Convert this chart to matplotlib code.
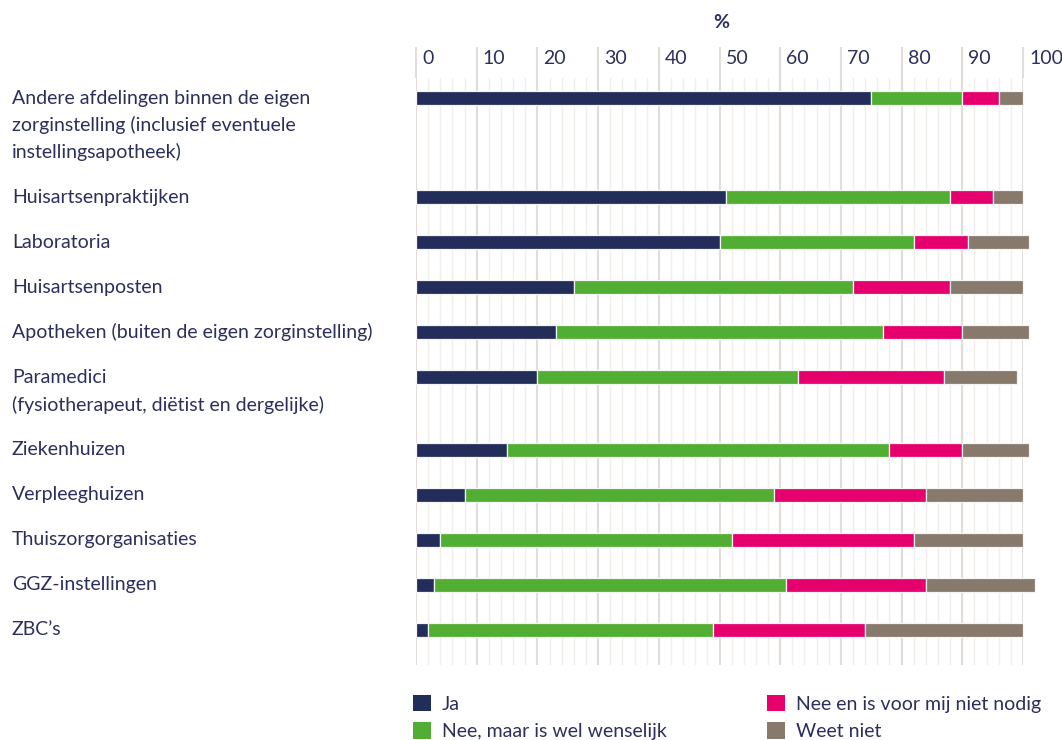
import matplotlib
matplotlib.use("Agg")
import matplotlib.pyplot as plt
import matplotlib.transforms as mtransforms
from matplotlib.patches import Patch
import numpy as np

plt.rcParams['font.family'] = ['Lato', 'DejaVu Sans']

categories = [
    "Andere afdelingen binnen de eigen\nzorginstelling (inclusief eventuele\ninstellingsapotheek)",
    "Huisartsenpraktijken",
    "Laboratoria",
    "Huisartsenposten",
    "Apotheken (buiten de eigen zorginstelling)",
    "Paramedici\n(fysiotherapeut, diëtist en dergelijke)",
    "Ziekenhuizen",
    "Verpleeghuizen",
    "Thuiszorgorganisaties",
    "GGZ-instellingen",
    "ZBC’s",
]
ja = [75, 51, 50, 26, 23, 20, 15, 8, 4, 3, 2]
nee_wenselijk = [15, 37, 32, 46, 54, 43, 63, 51, 48, 58, 47]
nee_niet_nodig = [6, 7, 9, 16, 13, 24, 12, 25, 30, 23, 25]
weet_niet = [4, 5, 10, 12, 11, 12, 11, 16, 18, 18, 26]
series_names = ["Ja", "Nee, maar is wel wenselijk", "Nee en is voor mij niet nodig", "Weet niet"]
colors = ["#232d5a", "#52ae32", "#e5006d", "#87796b"]
xticks = [0, 10, 20, 30, 40, 50, 60, 70, 80, 90, 100]
text_color = "#2b2f5c"
major_grid = "#e2ddd8"
minor_grid = "#f1efec"
fs = 14

fig = plt.figure(figsize=(10.62, 7.40), dpi=100)
ax = fig.add_axes([416/1062, 1-665/740, (1023-416)/1062, (665-78)/740])

# y positions: rows with multi-line labels take more space
line_step = 0.6
ypos = []
y = 0.0
for lab in categories:
    ypos.append(y)
    y += 1 + line_step * (lab.count("\n"))
ypos = np.array(ypos)

data = [ja, nee_wenselijk, nee_niet_nodig, weet_niet]
left = np.zeros(len(categories))
for vals, col in zip(data, colors):
    vals = np.array(vals, dtype=float)
    bars = ax.barh(ypos, vals, left=left, height=0.31, color=col,
                   edgecolor="#f4f4f4", linewidth=0.9, zorder=3)
    for b in bars:
        b.set_clip_on(False)
    left += vals

ax.set_xlim(0, 100)
ax.set_ylim(ypos[-1] + 0.78, -0.444)

# grid
for v in np.arange(0, 101, 2):
    if v % 10 == 0:
        ax.axvline(v, color=major_grid, lw=1.5, zorder=1)
    else:
        ax.axvline(v, color=minor_grid, lw=1.0, zorder=1)

ax.set_yticks([])
ax.set_xticks(xticks)
ax.tick_params(axis='x', which='major', top=True, bottom=False, labeltop=False,
               labelbottom=False, length=22, width=1.5, color=major_grid, direction='out')
for s in ax.spines.values():
    s.set_visible(False)

# tick labels to the right of the tick lines
trans = mtransforms.blended_transform_factory(ax.transData, ax.transAxes)
off = mtransforms.ScaledTranslation(6/100, 0, fig.dpi_scale_trans)
for v in xticks:
    ax.text(v, 1 + 19/587, str(v), transform=trans + off, ha='left', va='center',
            fontsize=fs, color=text_color)

fig.text(721/1062, 1-22/740, "%", ha='center', va='center', fontsize=fs,
         fontweight='bold', color=text_color)

# category labels, line by line
ltrans = mtransforms.blended_transform_factory(fig.transFigure, ax.transData)
for yp, lab in zip(ypos, categories):
    for i, line in enumerate(lab.split("\n")):
        ax.text(12/1062, yp + i * line_step, line, transform=ltrans, ha='left',
                va='center', fontsize=fs, color=text_color)

# legend in two columns placed separately
handles = [Patch(facecolor=c, edgecolor='none') for c in colors]
for idx, xpx in [((0, 1), 413), ((2, 3), 767)]:
    leg = fig.legend([handles[i] for i in idx], [series_names[i] for i in idx],
                     loc='upper left', bbox_to_anchor=(xpx/1062, 1-695/740),
                     frameon=False, fontsize=fs, handlelength=0.9, handleheight=0.9,
                     handletextpad=0.6, labelspacing=0.5, borderaxespad=0, borderpad=0)
    for t in leg.get_texts():
        t.set_color(text_color)

fig.savefig("out.png", dpi=100)
